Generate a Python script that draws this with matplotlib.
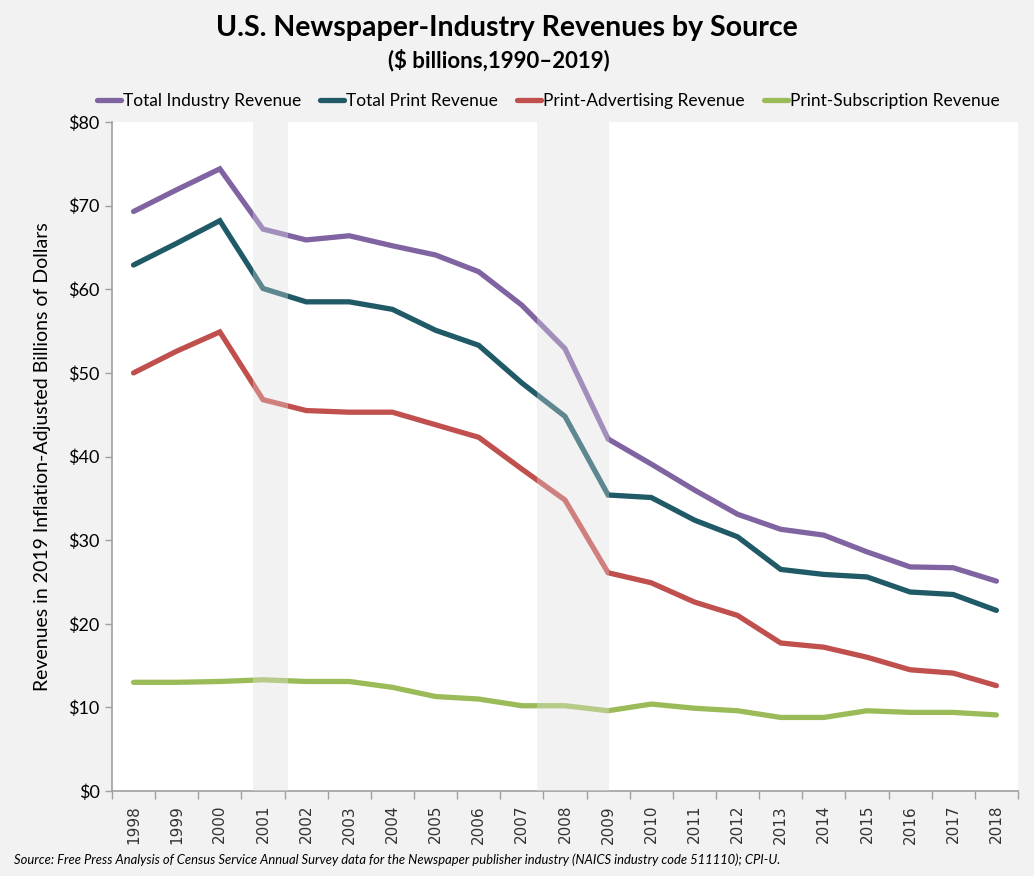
import matplotlib
matplotlib.use("Agg")
import matplotlib.pyplot as plt
from matplotlib.ticker import FixedLocator, FuncFormatter

years = list(range(1998, 2019))
total_industry = [69.3, 71.9, 74.4, 67.2, 65.9, 66.4, 65.2, 64.1, 62.1, 58.1, 52.9,
                  42.1, 39.1, 36.0, 33.1, 31.3, 30.6, 28.6, 26.8, 26.7, 25.1]
total_print = [62.9, 65.5, 68.2, 60.1, 58.5, 58.5, 57.6, 55.1, 53.3, 48.8, 44.8,
               35.4, 35.1, 32.4, 30.4, 26.5, 25.9, 25.6, 23.8, 23.5, 21.6]
print_advertising = [50.0, 52.6, 54.9, 46.8, 45.5, 45.3, 45.3, 43.8, 42.3, 38.5, 34.8,
                     26.1, 24.9, 22.6, 21.0, 17.7, 17.2, 16.0, 14.5, 14.1, 12.6]
print_subscription = [13.0, 13.0, 13.1, 13.3, 13.1, 13.1, 12.4, 11.3, 11.0, 10.2, 10.2,
                      9.6, 10.4, 9.9, 9.6, 8.8, 8.8, 9.6, 9.4, 9.4, 9.1]
series_names = ["Total Industry Revenue", "Total Print Revenue",
                "Print-Advertising Revenue", "Print-Subscription Revenue"]
series_colors = ["#8064A2", "#1F5A66", "#C0504D", "#9BBB59"]
recessions = [(2000.76, 2001.57), (2007.36, 2009.03)]
y_ticks = [0, 10, 20, 30, 40, 50, 60, 70, 80]

BG = "#f2f2f2"
fig = plt.figure(figsize=(10.34, 8.76), dpi=100, facecolor=BG)
ax = fig.add_axes([0.1083, 0.097, 0.8762, 0.7637])
ax.set_facecolor("white")

for a, b in recessions:
    ax.axvspan(a, b, color=BG, lw=0, zorder=1)

all_series = [total_industry, total_print, print_advertising, print_subscription]
for vals, name, col in zip(all_series, series_names, series_colors):
    ax.plot(years, vals, color=col, lw=3.8, label=name, zorder=3,
            solid_joinstyle="miter", solid_capstyle="round")

for a, b in recessions:
    ax.axvspan(a, b, color=BG, alpha=0.3, lw=0, zorder=4)

ax.set_xlim(1997.5, 2018.5)
ax.set_ylim(0, 80)
ax.set_yticks(y_ticks)
ax.yaxis.set_major_formatter(FuncFormatter(lambda v, p: f"${int(v)}"))
ax.set_xticks(years)
ax.set_xticklabels([str(y) for y in years], rotation=90, fontsize=11,
                   family="DejaVu Sans", color="#333333")
ax.xaxis.set_minor_locator(FixedLocator([y - 0.5 for y in years] + [2018.5]))
ax.tick_params(axis="x", which="major", length=0, pad=10)
ax.tick_params(axis="x", which="minor", length=6, color="#a0a0a0", width=1)
ax.tick_params(axis="y", length=5, color="#a0a0a0", width=1, labelsize=13,
               pad=4)
for lab in ax.get_yticklabels():
    lab.set_family("Lato")
for s in ["top", "right"]:
    ax.spines[s].set_visible(False)
for s in ["left", "bottom"]:
    ax.spines[s].set_color("#a0a0a0")
    ax.spines[s].set_linewidth(1.2)

ax.set_ylabel("Revenues in 2019 Inflation-Adjusted Billions of Dollars",
              fontsize=14, family="Lato", labelpad=12)

fig.text(0.49, 0.968, "U.S. Newspaper-Industry Revenues by Source",
         ha="center", va="center", fontsize=20.5, fontweight="bold", family="Lato")
fig.text(0.482, 0.932, "($ billions,1990\u20132019)",
         ha="center", va="center", fontsize=16, fontweight="bold", family="Lato")

leg = fig.legend(loc="center", bbox_to_anchor=(0.53, 0.885), ncol=4, frameon=False,
                 prop={"family": "Lato", "size": 12.5}, handlelength=1.4,
                 handletextpad=0.1, columnspacing=1.1)

fig.text(0.014, 0.019, "Source: Free Press Analysis of Census Service Annual Survey data for the "
         "Newspaper publisher industry (NAICS industry code 511110); CPI-U.",
         ha="left", va="center", fontsize=9.4, style="italic", family="Lato")

fig.savefig("out.png", dpi=100, facecolor=BG)
